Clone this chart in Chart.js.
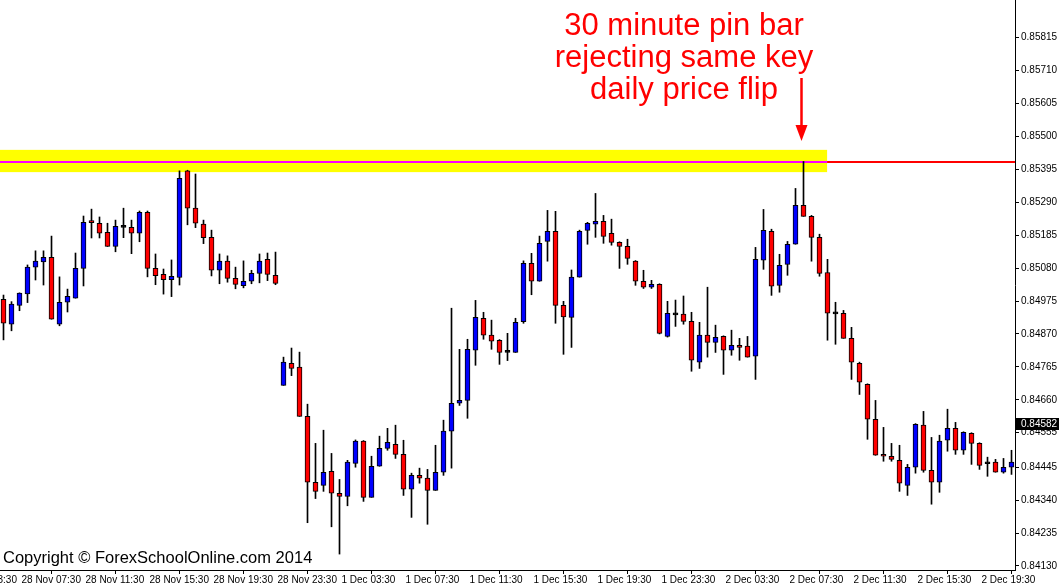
<!DOCTYPE html>
<html>
<head>
<meta charset="utf-8">
<script src="https://cdn.jsdelivr.net/npm/chart.js@4/dist/chart.umd.min.js"></script>
<style>
  html,body{margin:0;padding:0;background:#fff;}
  canvas{display:block;}
</style>
</head>
<body>
<canvas id="c" width="1059" height="584"></canvas>
<script>
// ---- Data (EUR/GBP M30, 28 Nov - 2 Dec 2014) ----
const open = [
0.84980,0.84901,0.84961,0.84998,0.85083,0.85100,0.85114,0.84901,0.84971,0.84984,
0.85079,0.85226,0.85223,0.85194,0.85149,0.85210,0.85210,0.85191,0.85258,0.85079,
0.85060,0.85043,0.85050,0.85390,0.85271,0.85220,0.85178,0.85073,0.85102,0.85047,
0.85024,0.85038,0.85063,0.85108,0.85057,0.84706,0.84776,0.84764,0.84607,0.84397,
0.84387,0.84432,0.84362,0.84352,0.84457,0.84528,0.84349,0.84448,0.84505,0.84518,
0.84486,0.84375,0.84419,0.84410,0.84371,0.84429,0.84560,0.84649,0.84658,0.84818,
0.84920,0.84866,0.84850,0.84811,0.84811,0.84909,0.85095,0.85038,0.85165,0.85197,
0.84961,0.84923,0.85051,0.85200,0.85220,0.85229,0.85191,0.85162,0.85149,0.85102,
0.85038,0.85019,0.85028,0.84862,0.84931,0.84933,0.84910,0.84780,0.84866,0.84843,
0.84862,0.84818,0.84834,0.84831,0.84799,0.85105,0.85197,0.85025,0.85092,0.85156,
0.85280,0.85245,0.85178,0.85066,0.84934,0.84936,0.84856,0.84776,0.84709,0.84598,
0.84486,0.84480,0.84467,0.84387,0.84445,0.84579,0.84435,0.84397,0.84531,0.84569,
0.84499,0.84553,0.84521,0.84456,0.84461,0.84429,0.84445
];
const high = [
0.84994,0.84973,0.85001,0.85090,0.85135,0.85135,0.85182,0.85052,0.85013,0.85128,
0.85246,0.85268,0.85243,0.85223,0.85233,0.85271,0.85233,0.85262,0.85262,0.85125,
0.85077,0.85106,0.85390,0.85392,0.85380,0.85233,0.85201,0.85125,0.85119,0.85083,
0.85103,0.85073,0.85125,0.85128,0.85131,0.84796,0.84825,0.84812,0.84646,0.84521,
0.84563,0.84489,0.84406,0.84467,0.84532,0.84530,0.84480,0.84544,0.84569,0.84579,
0.84531,0.84426,0.84442,0.84438,0.84515,0.84595,0.84952,0.84821,0.84853,0.84977,
0.84939,0.84914,0.84852,0.84872,0.84920,0.85103,0.85127,0.85182,0.85264,0.85261,
0.84974,0.85074,0.85201,0.85226,0.85318,0.85248,0.85236,0.85164,0.85172,0.85104,
0.85073,0.85041,0.85030,0.84974,0.84978,0.84991,0.84939,0.84907,0.85019,0.84898,
0.84864,0.84882,0.84856,0.84862,0.85146,0.85267,0.85204,0.85124,0.85165,0.85334,
0.85420,0.85248,0.85188,0.85108,0.84971,0.84945,0.84891,0.84780,0.84711,0.84658,
0.84572,0.84521,0.84515,0.84454,0.84584,0.84623,0.84540,0.84547,0.84630,0.84588,
0.84558,0.84555,0.84523,0.84477,0.84470,0.84473,0.84499
];
const low = [
0.84851,0.84880,0.84944,0.84970,0.85042,0.85026,0.84917,0.84896,0.84940,0.84984,
0.85023,0.85176,0.85176,0.85149,0.85132,0.85177,0.85126,0.85164,0.85052,0.85027,
0.84997,0.84989,0.85026,0.85218,0.85209,0.85158,0.85055,0.85030,0.85035,0.85014,
0.85017,0.85030,0.85033,0.85040,0.85027,0.84706,0.84737,0.84607,0.84268,0.84345,
0.84368,0.84255,0.84168,0.84322,0.84445,0.84336,0.84349,0.84448,0.84499,0.84473,
0.84355,0.84285,0.84394,0.84263,0.84371,0.84419,0.84442,0.84642,0.84601,0.84770,
0.84853,0.84821,0.84773,0.84785,0.84811,0.84904,0.84995,0.85038,0.85102,0.84904,
0.84805,0.84827,0.85051,0.85156,0.85178,0.85159,0.85153,0.85079,0.85092,0.85025,
0.85015,0.85015,0.84870,0.84860,0.84894,0.84901,0.84751,0.84760,0.84796,0.84811,
0.84741,0.84802,0.84786,0.84796,0.84725,0.85076,0.84993,0.85003,0.85057,0.85156,
0.85245,0.85102,0.85054,0.84850,0.84837,0.84856,0.84725,0.84677,0.84534,0.84483,
0.84464,0.84464,0.84368,0.84355,0.84426,0.84429,0.84327,0.84365,0.84496,0.84486,
0.84486,0.84454,0.84438,0.84416,0.84429,0.84426,0.84422
];
const close = [
0.84904,0.84965,0.85000,0.85083,0.85102,0.85114,0.84917,0.84971,0.84990,0.85079,
0.85226,0.85225,0.85191,0.85149,0.85213,0.85210,0.85191,0.85258,0.85079,0.85056,
0.85043,0.85054,0.85366,0.85271,0.85223,0.85177,0.85073,0.85102,0.85047,0.85028,
0.85038,0.85063,0.85102,0.85060,0.85031,0.84780,0.84760,0.84607,0.84397,0.84368,
0.84429,0.84362,0.84352,0.84461,0.84528,0.84349,0.84448,0.84505,0.84524,0.84486,
0.84375,0.84419,0.84410,0.84371,0.84429,0.84560,0.84649,0.84658,0.84821,0.84923,
0.84866,0.84847,0.84811,0.84811,0.84907,0.85095,0.85038,0.85159,0.85197,0.84961,
0.84924,0.85051,0.85197,0.85223,0.85229,0.85181,0.85162,0.85149,0.85111,0.85038,
0.85019,0.85028,0.84872,0.84936,0.84931,0.84910,0.84786,0.84866,0.84843,0.84859,
0.84818,0.84834,0.84827,0.84796,0.85108,0.85200,0.85022,0.85089,0.85156,0.85280,
0.85245,0.85178,0.85063,0.84936,0.84934,0.84856,0.84780,0.84716,0.84598,0.84483,
0.84480,0.84470,0.84394,0.84445,0.84582,0.84435,0.84397,0.84528,0.84569,0.84499,
0.84556,0.84521,0.84451,0.84456,0.84429,0.84445,0.84461
];

// x-axis time labels (one every 8 bars)
const xTickIndex  = [-6, 2, 10, 18, 26, 34, 42, 50, 58, 66, 74, 82, 90, 98, 106, 114, 122];
const xTickLabels = ["28 Nov 03:30","28 Nov 07:30","28 Nov 11:30","28 Nov 15:30","28 Nov 19:30",
  "28 Nov 23:30","1 Dec 03:30","1 Dec 07:30","1 Dec 11:30","1 Dec 15:30","1 Dec 19:30",
  "1 Dec 23:30","2 Dec 03:30","2 Dec 07:30","2 Dec 11:30","2 Dec 15:30","2 Dec 19:30"];
// y-axis price labels
const yTickValues = [0.85815,0.85710,0.85605,0.85500,0.85395,0.85290,0.85185,0.85080,0.84975,
  0.84870,0.84765,0.84660,0.84555,0.84445,0.84340,0.84235,0.84130];
const yTickLabels = ["0.85815","0.85710","0.85605","0.85500","0.85395","0.85290","0.85185","0.85080","0.84975",
  "0.84870","0.84765","0.84660","0.84555","0.84445","0.84340","0.84235","0.84130"];

// key level zone & annotation values
const zoneTop = 0.85457, zoneBottom = 0.85386, flipLevel = 0.85418, zoneEndIndex = 102.95;
const currentPrice = 0.84582, currentPriceLabel = "0.84582";
const noteLines = ["30 minute pin bar", "rejecting same key", "daily price flip"];
const copyrightText = "Copyright \u00A9 ForexSchoolOnline.com 2014";

// view range
const xMin = -0.4375, xMax = 126.4375;
const yMin = 0.841172, yMax = 0.859349;

// ---- build datasets from arrays ----
const wickData = high.map((h, i) => ({ x: i, y: [low[i], h] }));
const bodyData = open.map((o, i) => ({ x: i, y: [o, close[i]] }));
const bodyColors = open.map((o, i) => close[i] > o ? '#0000FF' : (close[i] < o ? '#FF0000' : '#000000'));

const annot = {
  id: 'annot',
  beforeDatasetsDraw(chart) {
    const { ctx, scales: { x, y }, chartArea } = chart;
    const xEnd = x.getPixelForValue(zoneEndIndex);
    const yT = y.getPixelForValue(zoneTop), yB = y.getPixelForValue(zoneBottom);
    const yL = y.getPixelForValue(flipLevel);
    ctx.save();
    ctx.fillStyle = '#FFFF00';
    ctx.fillRect(chartArea.left, yT, xEnd - chartArea.left, yB - yT);
    ctx.lineWidth = 2;
    ctx.strokeStyle = '#FF00FF';
    ctx.beginPath(); ctx.moveTo(chartArea.left, yL); ctx.lineTo(xEnd, yL); ctx.stroke();
    ctx.strokeStyle = '#FF0000';
    ctx.beginPath(); ctx.moveTo(xEnd, yL); ctx.lineTo(chartArea.right, yL); ctx.stroke();
    ctx.restore();
  },
  afterDraw(chart) {
    const { ctx, scales: { y } } = chart;
    ctx.save();
    // annotation text
    ctx.fillStyle = '#FF0000';
    ctx.font = '31px "Liberation Sans", Arial, sans-serif';
    ctx.textAlign = 'center';
    ctx.textBaseline = 'alphabetic';
    noteLines.forEach((t, i) => ctx.fillText(t, 684, 35 + i * 32));
    // arrow
    ctx.strokeStyle = '#FF0000';
    ctx.lineWidth = 2.5;
    ctx.beginPath(); ctx.moveTo(801.5, 78); ctx.lineTo(801.5, 128); ctx.stroke();
    ctx.beginPath();
    ctx.moveTo(795.5, 125); ctx.lineTo(807.5, 125); ctx.lineTo(801.5, 141); ctx.closePath();
    ctx.fill();
    // current price tag
    const yp = y.getPixelForValue(currentPrice);
    ctx.fillStyle = '#000';
    ctx.fillRect(1016, Math.round(yp) - 6, 43, 12);
    ctx.fillStyle = '#fff';
    ctx.font = '10px "Liberation Sans", Arial, sans-serif';
    ctx.textAlign = 'left';
    ctx.textBaseline = 'middle';
    ctx.fillText(currentPriceLabel, 1021, Math.round(yp));
    // copyright
    ctx.fillStyle = '#000';
    ctx.font = '16.5px "Liberation Sans", Arial, sans-serif';
    ctx.textBaseline = 'alphabetic';
    ctx.fillText(copyrightText, 3, 563);
    ctx.restore();
  }
};

const noPad = s => { s.paddingLeft = 0; s.paddingRight = 0; s.paddingTop = 0; s.paddingBottom = 0; };

new Chart(document.getElementById('c'), {
  type: 'bar',
  data: {
    datasets: [
      { label: 'wick', data: wickData, backgroundColor: '#000', borderWidth: 0,
        barThickness: 1, grouped: false, order: 2 },
      { label: 'body', data: bodyData, backgroundColor: bodyColors, borderColor: '#000',
        borderWidth: 1, borderSkipped: false, barThickness: 5, minBarLength: 2,
        grouped: false, order: 1 }
    ]
  },
  options: {
    responsive: false, animation: false, devicePixelRatio: 1,
    layout: { padding: 0 },
    plugins: { legend: { display: false }, tooltip: { enabled: false } },
    scales: {
      x: {
        type: 'linear', min: xMin, max: xMax, offset: false,
        grid: { display: true, drawOnChartArea: false, drawTicks: true, tickLength: 4, color: '#000' },
        border: { display: true, color: '#000' },
        ticks: { autoSkip: false, maxRotation: 0, minRotation: 0, align: 'start', labelOffset: 2,
          padding: 0, color: '#000', font: { family: '"Liberation Sans", Arial, sans-serif', size: 10 },
          callback: (v, i) => xTickLabels[i] },
        afterBuildTicks: s => { s.ticks = xTickIndex.map(v => ({ value: v })); },
        afterFit: s => { s.height = 14; noPad(s); }
      },
      y: {
        position: 'right', min: yMin, max: yMax,
        grid: { display: true, drawOnChartArea: false, drawTicks: true, tickLength: 4, color: '#000' },
        border: { display: true, color: '#000' },
        ticks: { padding: 2, color: '#000', font: { family: '"Liberation Sans", Arial, sans-serif', size: 10 },
          callback: (v, i) => yTickLabels[i] },
        afterBuildTicks: s => { s.ticks = yTickValues.map(v => ({ value: v })); },
        afterFit: s => { s.width = 44; noPad(s); }
      }
    }
  },
  plugins: [annot]
});
</script>
</body>
</html>
